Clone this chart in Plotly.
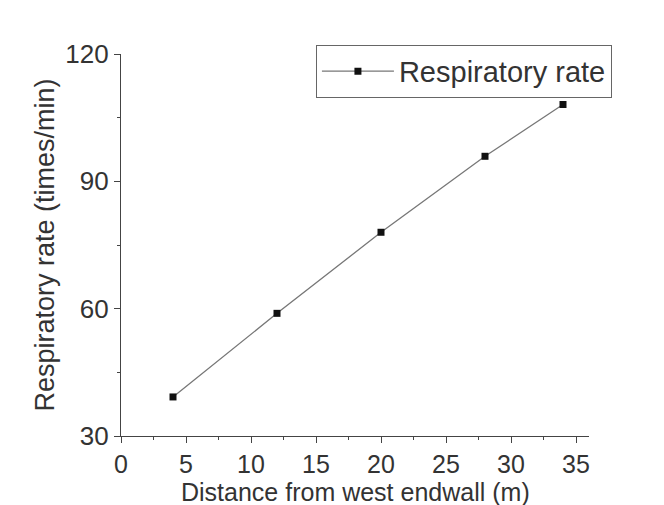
import plotly.graph_objects as go

distance = [4, 12, 20, 28, 34]
resp_rate = [39.2, 58.9, 78.0, 95.9, 108.1]
series_name = "Respiratory rate"
x_ticks = [0, 5, 10, 15, 20, 25, 30, 35]
y_ticks = [30, 60, 90, 120]
x_title = "Distance from west endwall (m)"
y_title = "Respiratory rate (times/min)"

FONT = "Liberation Sans, Arial, sans-serif"
AX = "#444444"
fig = go.Figure()
fig.add_trace(go.Scatter(
    x=distance, y=resp_rate, name=series_name, mode="lines+markers",
    line=dict(color="#777777", width=1.3),
    marker=dict(symbol="square", size=7, color="#111111"),
))
fig.update_layout(
    width=664, height=505,
    margin=dict(l=121, r=75, t=54, b=69),
    paper_bgcolor="white", plot_bgcolor="white",
    font=dict(family=FONT, color="#333333", size=26),
    showlegend=True,
    legend=dict(
        x=1.049, y=1.024, xanchor="right", yanchor="top",
        bgcolor="white", bordercolor="#666666", borderwidth=1,
        font=dict(size=29, color="#333333"), itemwidth=72,
        tracegroupgap=0,
    ),
    xaxis=dict(
        range=[0, 36], tickvals=x_ticks, showgrid=False, zeroline=False,
        showline=True, linecolor=AX, linewidth=1.3, automargin=False,
        ticks="outside", ticklen=6, tickcolor=AX,
        tickfont=dict(size=25),
        minor=dict(dtick=2.5, tick0=0, ticks="outside", ticklen=3, tickcolor=AX),
    ),
    yaxis=dict(
        range=[30, 120], tickvals=y_ticks, showgrid=False, zeroline=False,
        showline=True, linecolor=AX, linewidth=1.3, automargin=False,
        ticks="outside", ticklen=6, tickcolor=AX,
        tickfont=dict(size=26),
        minor=dict(dtick=15, tick0=30, ticks="outside", ticklen=3, tickcolor=AX),
        title=dict(text=y_title, font=dict(size=27), standoff=2),
    ),
    annotations=[dict(
        text=x_title, xref="paper", yref="paper", x=0.5, y=-0.146,
        xanchor="center", yanchor="middle", showarrow=False,
        font=dict(size=25, color="#333333"),
    )],
)
fig.write_html("out.html")
